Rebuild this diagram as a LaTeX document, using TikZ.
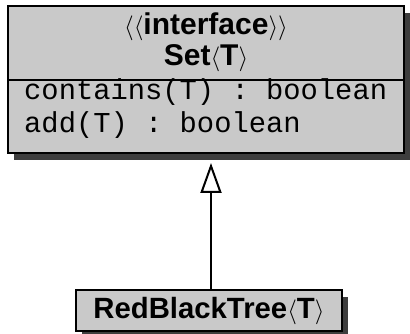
\documentclass[tikz,border=0pt]{standalone}
\usepackage{fontspec}
\setmainfont{Liberation Sans}
\setmonofont{Liberation Mono}
\usetikzlibrary{arrows.meta,shadows}

\tikzset{
  classbox/.style={draw=black, line width=2pt, fill=black!21, inner sep=0pt,
    drop shadow={shadow xshift=6pt, shadow yshift=-7pt, fill=black!76, opacity=1}},
  headtext/.style={font=\fontsize{30}{34}\selectfont\bfseries, anchor=base, inner sep=0pt},
  optext/.style={font=\fontsize{28.8}{34}\selectfont\ttfamily, anchor=base west, inner sep=0pt},
  realize/.style={line width=2pt, -{Triangle[open, length=30pt, width=21pt, line width=2pt]}}
}

\begin{document}
\begin{tikzpicture}[x=1pt, y=1pt]
  \useasboundingbox (0,0) rectangle (410,334);

  % interface Set<T>
  \node[classbox, minimum width=396pt, minimum height=147pt, anchor=north west] (set) at (7,329) {};
  \draw[line width=2pt] (set.west |- 0,254) coordinate (divl) -- (set.east |- 0,254) coordinate (divr);
  \node[headtext] (stereo) at (206,299) {$\langle\langle$interface$\rangle\rangle$};
  \node[headtext] (setname) at (206,268) {Set$\langle$T$\rangle$};
  \node[optext] (op1) at (24,234) {contains(T) : boolean};
  \node[optext] (op2) at (24,201) {add(T) : boolean};

  % implementing class
  \node[classbox, minimum width=266pt, minimum height=41pt, anchor=north west,
        font=\fontsize{29.3}{34}\selectfont\bfseries] (rbt) at (75,45) {RedBlackTree$\langle$T$\rangle$};

  % realization arrow
  \coordinate (tip) at (211,171);
  \draw[realize] (rbt.north -| tip) -- (tip);
\end{tikzpicture}
\end{document}
